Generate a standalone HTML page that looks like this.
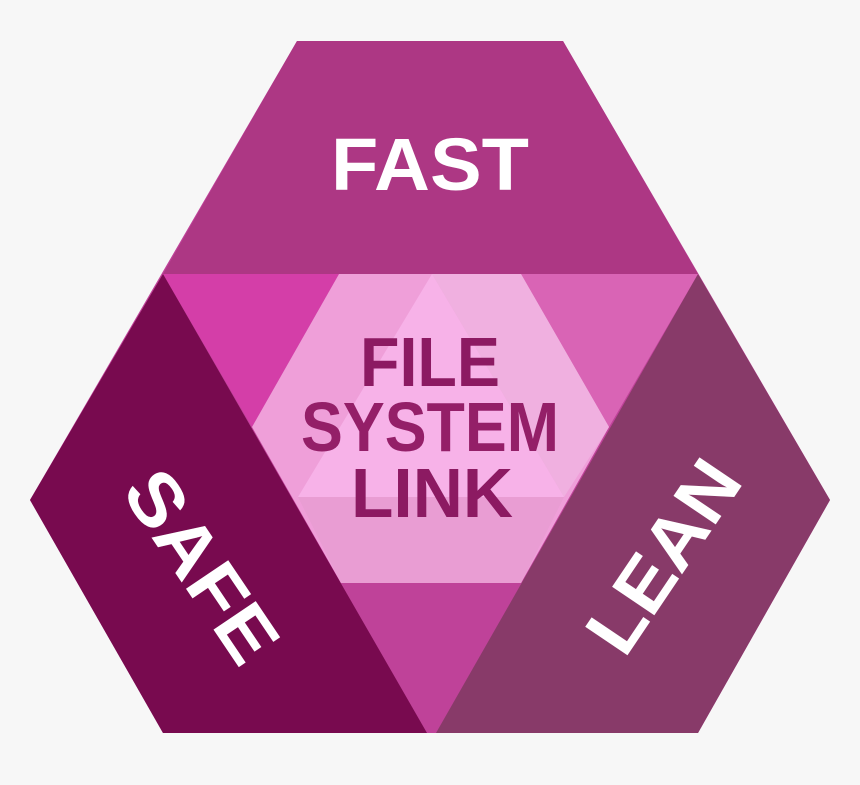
<!DOCTYPE html>
<html><head><style>html,body{margin:0;padding:0;background:#f7f7f7}svg{display:block}</style></head>
<body>
<svg width="860" height="785" viewBox="0 0 860 785" xmlns="http://www.w3.org/2000/svg">
<rect width="860" height="785" fill="#f7f7f7"/>
<polygon points="297,41 563,41 830,500 698,733 163,733 30,500" fill="#bf4299"/>
<polygon points="163,274 339,274 252,427" fill="#d43ea8"/>
<polygon points="521,274 698,274 609,427" fill="#d964b5"/>
<polygon points="297,41 563,41 698,274 163,274" fill="#ad3784"/>
<polygon points="163,274 427,733 163,733 30,500" fill="#780a4f"/>
<polygon points="698,274 830,500 698,733 436,733" fill="#883a69"/>
<polygon points="339,274 521,274 609,427 521,583 341,583 252,427" fill="#ef9fd9"/>
<polygon points="432,274 521,274 609,427 564,497 " fill="#f0b0e0"/>
<polygon points="432,274 564,497 298,497" fill="#f7b2e8"/>
<polygon points="298,497 564,497 521,583 341,583" fill="#e99dd3"/>
<g font-family="Liberation Sans, sans-serif" font-weight="bold" text-anchor="middle">
<text x="430" y="190" font-size="74" fill="#fff" textLength="198" lengthAdjust="spacingAndGlyphs">FAST</text>
<text x="430" y="386" font-size="70" fill="#8c1a62" textLength="140" lengthAdjust="spacingAndGlyphs">FILE</text>
<text x="430" y="451" font-size="70" fill="#941f68" textLength="258" lengthAdjust="spacingAndGlyphs">SYSTEM</text>
<text x="432" y="517" font-size="70" fill="#8c1a62" textLength="162" lengthAdjust="spacingAndGlyphs">LINK</text>
<text transform="translate(202,566) rotate(56)" y="26" font-size="74" fill="#fff" textLength="215" lengthAdjust="spacingAndGlyphs">SAFE</text>
<text transform="translate(663,556) rotate(-56)" y="26" font-size="74" fill="#fff" textLength="215" lengthAdjust="spacingAndGlyphs">LEAN</text>
</g>
</svg>
</body></html>
